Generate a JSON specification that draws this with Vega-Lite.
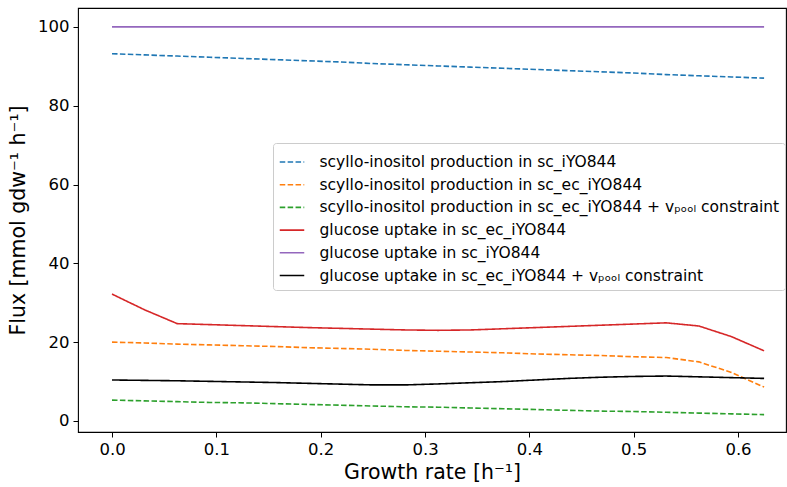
{
  "$schema": "https://vega.github.io/schema/vega-lite/v6.json",
  "width": 708,
  "height": 424,
  "autosize": {"type": "none"},
  "padding": {"left": 78, "top": 8, "right": 1, "bottom": 55},
  "background": "white",
  "config": {
    "font": "DejaVu Sans",
    "view": {"stroke": "black", "strokeWidth": 1.1},
    "axis": {
      "domain": false,
      "grid": false,
      "tickColor": "black",
      "tickSize": 5,
      "tickWidth": 1,
      "labelColor": "black",
      "labelFont": "DejaVu Sans",
      "labelFontSize": 16.5,
      "titleFont": "DejaVu Sans",
      "titleFontSize": 20.5,
      "titleFontWeight": "normal",
      "titleColor": "black",
      "labelPadding": 4
    }
  },
  "data": {
    "values": [
      {"x": 0.0, "y": 93.2, "s": "blue"}, {"x": 0.03125, "y": 92.9, "s": "blue"}, {"x": 0.0625, "y": 92.6, "s": "blue"}, {"x": 0.09375, "y": 92.3, "s": "blue"}, {"x": 0.125, "y": 92.0, "s": "blue"}, {"x": 0.15625, "y": 91.7, "s": "blue"}, {"x": 0.1875, "y": 91.4, "s": "blue"}, {"x": 0.21875, "y": 91.1, "s": "blue"}, {"x": 0.25, "y": 90.7, "s": "blue"}, {"x": 0.28125, "y": 90.4, "s": "blue"}, {"x": 0.3125, "y": 90.1, "s": "blue"}, {"x": 0.34375, "y": 89.8, "s": "blue"}, {"x": 0.375, "y": 89.5, "s": "blue"}, {"x": 0.40625, "y": 89.2, "s": "blue"}, {"x": 0.4375, "y": 88.9, "s": "blue"}, {"x": 0.46875, "y": 88.6, "s": "blue"}, {"x": 0.5, "y": 88.3, "s": "blue"}, {"x": 0.53125, "y": 87.9, "s": "blue"}, {"x": 0.5625, "y": 87.6, "s": "blue"}, {"x": 0.59375, "y": 87.3, "s": "blue"}, {"x": 0.625, "y": 87.0, "s": "blue"},
      {"x": 0.0, "y": 20.0, "s": "orange"}, {"x": 0.03125, "y": 19.8, "s": "orange"}, {"x": 0.0625, "y": 19.5, "s": "orange"}, {"x": 0.09375, "y": 19.3, "s": "orange"}, {"x": 0.125, "y": 19.1, "s": "orange"}, {"x": 0.15625, "y": 18.9, "s": "orange"}, {"x": 0.1875, "y": 18.6, "s": "orange"}, {"x": 0.21875, "y": 18.4, "s": "orange"}, {"x": 0.25, "y": 18.2, "s": "orange"}, {"x": 0.28125, "y": 17.9, "s": "orange"}, {"x": 0.3125, "y": 17.7, "s": "orange"}, {"x": 0.34375, "y": 17.5, "s": "orange"}, {"x": 0.375, "y": 17.3, "s": "orange"}, {"x": 0.40625, "y": 17.0, "s": "orange"}, {"x": 0.4375, "y": 16.8, "s": "orange"}, {"x": 0.46875, "y": 16.6, "s": "orange"}, {"x": 0.5, "y": 16.3, "s": "orange"}, {"x": 0.53125, "y": 16.1, "s": "orange"}, {"x": 0.5625, "y": 15.0, "s": "orange"}, {"x": 0.59375, "y": 12.3, "s": "orange"}, {"x": 0.625, "y": 8.6, "s": "orange"},
      {"x": 0.0, "y": 5.3, "s": "green"}, {"x": 0.03125, "y": 5.1, "s": "green"}, {"x": 0.0625, "y": 4.9, "s": "green"}, {"x": 0.09375, "y": 4.7, "s": "green"}, {"x": 0.125, "y": 4.6, "s": "green"}, {"x": 0.15625, "y": 4.4, "s": "green"}, {"x": 0.1875, "y": 4.2, "s": "green"}, {"x": 0.21875, "y": 4.0, "s": "green"}, {"x": 0.25, "y": 3.8, "s": "green"}, {"x": 0.28125, "y": 3.6, "s": "green"}, {"x": 0.3125, "y": 3.5, "s": "green"}, {"x": 0.34375, "y": 3.3, "s": "green"}, {"x": 0.375, "y": 3.1, "s": "green"}, {"x": 0.40625, "y": 2.9, "s": "green"}, {"x": 0.4375, "y": 2.7, "s": "green"}, {"x": 0.46875, "y": 2.5, "s": "green"}, {"x": 0.5, "y": 2.4, "s": "green"}, {"x": 0.53125, "y": 2.2, "s": "green"}, {"x": 0.5625, "y": 2.0, "s": "green"}, {"x": 0.59375, "y": 1.8, "s": "green"}, {"x": 0.625, "y": 1.6, "s": "green"},
      {"x": 0.0, "y": 32.2, "s": "red"}, {"x": 0.03125, "y": 28.2, "s": "red"}, {"x": 0.0625, "y": 24.7, "s": "red"}, {"x": 0.09375, "y": 24.45, "s": "red"}, {"x": 0.125, "y": 24.2, "s": "red"}, {"x": 0.15625, "y": 23.95, "s": "red"}, {"x": 0.1875, "y": 23.7, "s": "red"}, {"x": 0.21875, "y": 23.5, "s": "red"}, {"x": 0.25, "y": 23.3, "s": "red"}, {"x": 0.28125, "y": 23.1, "s": "red"}, {"x": 0.3125, "y": 23.0, "s": "red"}, {"x": 0.34375, "y": 23.1, "s": "red"}, {"x": 0.375, "y": 23.4, "s": "red"}, {"x": 0.40625, "y": 23.7, "s": "red"}, {"x": 0.4375, "y": 24.0, "s": "red"}, {"x": 0.46875, "y": 24.3, "s": "red"}, {"x": 0.5, "y": 24.6, "s": "red"}, {"x": 0.53125, "y": 24.9, "s": "red"}, {"x": 0.5625, "y": 24.1, "s": "red"}, {"x": 0.59375, "y": 21.4, "s": "red"}, {"x": 0.625, "y": 17.8, "s": "red"},
      {"x": 0.0, "y": 100, "s": "purple"}, {"x": 0.625, "y": 100, "s": "purple"},
      {"x": 0.0, "y": 10.4, "s": "black"}, {"x": 0.03125, "y": 10.3, "s": "black"}, {"x": 0.0625, "y": 10.2, "s": "black"}, {"x": 0.09375, "y": 10.05, "s": "black"}, {"x": 0.125, "y": 9.9, "s": "black"}, {"x": 0.15625, "y": 9.75, "s": "black"}, {"x": 0.1875, "y": 9.55, "s": "black"}, {"x": 0.21875, "y": 9.35, "s": "black"}, {"x": 0.25, "y": 9.15, "s": "black"}, {"x": 0.28125, "y": 9.15, "s": "black"}, {"x": 0.3125, "y": 9.4, "s": "black"}, {"x": 0.34375, "y": 9.7, "s": "black"}, {"x": 0.375, "y": 10.0, "s": "black"}, {"x": 0.40625, "y": 10.4, "s": "black"}, {"x": 0.4375, "y": 10.8, "s": "black"}, {"x": 0.46875, "y": 11.1, "s": "black"}, {"x": 0.5, "y": 11.3, "s": "black"}, {"x": 0.53125, "y": 11.4, "s": "black"}, {"x": 0.5625, "y": 11.2, "s": "black"}, {"x": 0.59375, "y": 11.0, "s": "black"}, {"x": 0.625, "y": 10.8, "s": "black"}
    ]
  },
  "transform": [
    {"lookup": "s", "from": {"data": {"values": [
      {"s": "blue", "label": "scyllo-inositol production in sc_iYO844"},
      {"s": "orange", "label": "scyllo-inositol production in sc_ec_iYO844"},
      {"s": "green", "label": "scyllo-inositol production in sc_ec_iYO844 + vₚₒₒₗ constraint"},
      {"s": "red", "label": "glucose uptake in sc_ec_iYO844"},
      {"s": "purple", "label": "glucose uptake in sc_iYO844"},
      {"s": "black", "label": "glucose uptake in sc_ec_iYO844 + vₚₒₒₗ constraint"}
    ]}, "key": "s", "fields": ["label"]}}
  ],
  "mark": {"type": "line", "strokeWidth": 1.6, "clip": true},
  "encoding": {
    "x": {
      "field": "x", "type": "quantitative",
      "scale": {"domain": [-0.0326, 0.646], "nice": false, "zero": false},
      "axis": {"values": [0, 0.1, 0.2, 0.3, 0.4, 0.5, 0.6], "format": ".1f", "title": "Growth rate [h⁻¹]", "titlePadding": 5}
    },
    "y": {
      "field": "y", "type": "quantitative",
      "scale": {"domain": [-2.8, 104.8], "nice": false, "zero": false},
      "axis": {"values": [0, 20, 40, 60, 80, 100], "title": "Flux [mmol gdw⁻¹ h⁻¹]", "titlePadding": 9}
    },
    "detail": {"field": "s"},
    "color": {
      "field": "label", "type": "nominal",
      "scale": {
        "domain": [
          "scyllo-inositol production in sc_iYO844",
          "scyllo-inositol production in sc_ec_iYO844",
          "scyllo-inositol production in sc_ec_iYO844 + vₚₒₒₗ constraint",
          "glucose uptake in sc_ec_iYO844",
          "glucose uptake in sc_iYO844",
          "glucose uptake in sc_ec_iYO844 + vₚₒₒₗ constraint"
        ],
        "range": ["#1f77b4", "#ff7f0e", "#2ca02c", "#d62728", "#9467bd", "#000000"]
      },
      "legend": {
        "title": null,
        "orient": "none",
        "legendX": 195,
        "legendY": 135,
        "fillColor": "rgba(255,255,255,0.8)",
        "strokeColor": "#cccccc",
        "cornerRadius": 3,
        "padding": 5.5,
        "symbolType": "stroke",
        "symbolSize": 600,
        "symbolStrokeWidth": 1.6,
        "labelFont": "DejaVu Sans",
        "labelFontSize": 15.5,
        "labelColor": "black",
        "labelOffset": 14,
        "labelLimit": 600,
        "rowPadding": 0.7
      }
    },
    "strokeDash": {
      "field": "label", "type": "nominal",
      "scale": {
        "domain": [
          "scyllo-inositol production in sc_iYO844",
          "scyllo-inositol production in sc_ec_iYO844",
          "scyllo-inositol production in sc_ec_iYO844 + vₚₒₒₗ constraint",
          "glucose uptake in sc_ec_iYO844",
          "glucose uptake in sc_iYO844",
          "glucose uptake in sc_ec_iYO844 + vₚₒₒₗ constraint"
        ],
        "range": [[5.5, 2.4], [5.5, 2.4], [5.5, 2.4], [1, 0], [1, 0], [1, 0]]
      },
      "legend": null
    }
  }
}
